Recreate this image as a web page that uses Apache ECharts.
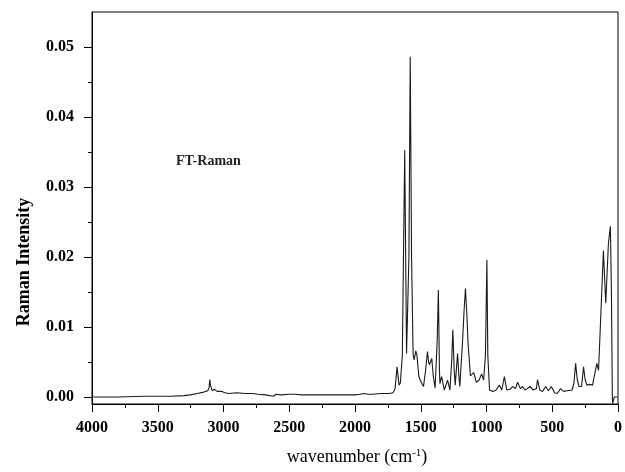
<!DOCTYPE html>
<html>
<head>
<meta charset="utf-8">
<script src="https://cdn.jsdelivr.net/npm/echarts@6/dist/echarts.min.js"></script>
<style>
html,body{margin:0;padding:0;background:#fff;}
#chart{width:625px;height:472px;}
</style>
</head>
<body>
<div id="chart"></div>
<script>
// Raman spectrum (wavenumber in cm^-1, intensity)
const wavenumbers = [
  4000, 3800, 3600, 3400, 3300, 3250, 3200, 3150, 3120, 3110, 3104, 3098, 3086, 3070, 3061, 3048, 3036, 3011, 2990, 2960,
  2900, 2835, 2780, 2735, 2680, 2621, 2600, 2560, 2500, 2458, 2400, 2300, 2200, 2100, 2000, 1960, 1931, 1900, 1886, 1870,
  1800, 1740, 1710, 1695, 1680, 1665, 1655, 1640, 1622, 1608, 1600, 1590, 1580, 1570, 1558, 1550, 1538, 1529, 1515, 1504,
  1479, 1462, 1449, 1440, 1434, 1416, 1405, 1391, 1375, 1366, 1358, 1354, 1341, 1321, 1296, 1278, 1265, 1256, 1246, 1238,
  1220, 1210, 1203, 1183, 1170, 1160, 1150, 1140, 1122, 1098, 1077, 1057, 1037, 1022, 1008, 997, 990, 977, 952, 927,
  902, 884, 864, 846, 820, 801, 780, 763, 743, 726, 708, 690, 670, 645, 620, 612, 595, 574, 550, 530,
  507, 482, 462, 437, 412, 387, 349, 335, 322, 310, 297, 277, 262, 250, 237, 215, 194, 186, 161, 148,
  130, 111, 93, 73, 58, 50, 43, 41, 30, 28, 5
];
const intensities = [
  0.0000, 0.0000, 0.0001, 0.0001, 0.0002, 0.0003, 0.0005, 0.0007, 0.0009, 0.0013, 0.0025, 0.0016, 0.0009, 0.0011, 0.0009, 0.0008, 0.0006, 0.0008, 0.0006, 0.0005,
  0.0006, 0.0005, 0.0005, 0.0004, 0.0003, 0.0001, 0.0004, 0.0003, 0.0004, 0.0004, 0.0003, 0.0003, 0.0003, 0.0003, 0.0003, 0.0004, 0.0005, 0.0004, 0.0006, 0.0004,
  0.0005, 0.0005, 0.0006, 0.0012, 0.0043, 0.0017, 0.0020, 0.0060, 0.0353, 0.0062, 0.0062, 0.0200, 0.0486, 0.0200, 0.0060, 0.0053, 0.0066, 0.0060, 0.0030, 0.0024,
  0.0015, 0.0040, 0.0065, 0.0050, 0.0046, 0.0055, 0.0030, 0.0013, 0.0080, 0.0153, 0.0040, 0.0019, 0.0029, 0.0010, 0.0024, 0.0010, 0.0050, 0.0096, 0.0040, 0.0017,
  0.0062, 0.0030, 0.0015, 0.0076, 0.0125, 0.0155, 0.0120, 0.0076, 0.0030, 0.0035, 0.0021, 0.0024, 0.0033, 0.0024, 0.0060, 0.0196, 0.0060, 0.0010, 0.0008, 0.0010,
  0.0017, 0.0010, 0.0029, 0.0010, 0.0011, 0.0015, 0.0012, 0.0021, 0.0012, 0.0015, 0.0010, 0.0012, 0.0015, 0.0010, 0.0012, 0.0025, 0.0010, 0.0008, 0.0015, 0.0009,
  0.0015, 0.0006, 0.0005, 0.0012, 0.0008, 0.0009, 0.0010, 0.0020, 0.0048, 0.0025, 0.0015, 0.0015, 0.0043, 0.0025, 0.0017, 0.0018, 0.0017, 0.0019, 0.0048, 0.0038,
  0.0120, 0.0209, 0.0134, 0.0219, 0.0244, 0.0150, 0.0000, -0.0009, -0.0009, 0.0000, 0.0000
];
const yTickLabels = [0, 0.01, 0.02, 0.03, 0.04, 0.05];
const yMinorTicks = [0.005, 0.015, 0.025, 0.035, 0.045];
const xTickStep = 500;
const annotation = 'FT-Raman';
const yTitle = 'Raman Intensity';

const serif = '"Liberation Serif", "Times New Roman", serif';
const data = wavenumbers.map((w, i) => [w, intensities[i]]);
const gridBox = {left: 92, right: 2, top: 12, bottom: 68};

const chart = echarts.init(document.getElementById('chart'), null, {renderer: 'canvas'});
chart.setOption({
  animation: false,
  backgroundColor: '#ffffff',
  grid: [
    Object.assign({show: true, borderColor: '#000', borderWidth: 1, backgroundColor: 'transparent'}, gridBox),
    Object.assign({show: false}, gridBox)
  ],
  xAxis: [{
    gridIndex: 0, type: 'value', min: 0, max: 4000, interval: xTickStep, inverse: true,
    axisLine: {onZero: false, lineStyle: {color: '#000', width: 1}},
    axisTick: {inside: false, length: 8, lineStyle: {color: '#000'}},
    minorTick: {show: true, splitNumber: 2, length: 4, lineStyle: {color: '#000'}},
    splitLine: {show: false},
    axisLabel: {color: '#000', fontFamily: serif, fontWeight: 'bold', fontSize: 16, margin: 16,
      showMaxLabel: true, showMinLabel: true, formatter: v => String(v)}
  }, {
    gridIndex: 1, type: 'value', min: 0, max: 4000, inverse: true, show: false
  }],
  yAxis: [{
    gridIndex: 0, type: 'value', min: -0.001, max: 0.055,
    axisLine: {onZero: false, lineStyle: {color: '#000', width: 1}},
    axisTick: {inside: false, length: 8, customValues: yTickLabels, lineStyle: {color: '#000'}},
    splitLine: {show: false},
    axisLabel: {color: '#000', fontFamily: serif, fontWeight: 'bold', fontSize: 16, margin: 18,
      customValues: yTickLabels, formatter: v => v.toFixed(2)}
  }, {
    gridIndex: 1, type: 'value', min: -0.001, max: 0.055, position: 'left',
    axisLine: {show: false, onZero: false},
    axisTick: {show: true, inside: false, length: 4, customValues: yMinorTicks, lineStyle: {color: '#000'}},
    axisLabel: {show: false},
    splitLine: {show: false}
  }],
  series: [{
    type: 'line', data: data, showSymbol: false, smooth: false,
    lineStyle: {color: '#1a1a1a', width: 1.1}, xAxisIndex: 0, yAxisIndex: 0
  }],
  graphic: [
    {type: 'text', left: 176, top: 154, style: {text: annotation, fill: '#222', font: 'bold 14px ' + serif}},
    {type: 'text', x: 24, y: 262, rotation: Math.PI / 2,
      style: {text: yTitle, fill: '#000', font: 'bold 18px ' + serif, align: 'center', verticalAlign: 'middle'}},
    {type: 'text', x: 357, y: 457,
      style: {
        text: '{a|wavenumber (cm}{s|-1}{a|)}',
        align: 'center', verticalAlign: 'middle',
        rich: {
          a: {font: '18px ' + serif, fill: '#000'},
          s: {font: '11px ' + serif, fill: '#000', verticalAlign: 'top', padding: [0, 0, 8, 0]}
        }
      }}
  ]
});
</script>
</body>
</html>
